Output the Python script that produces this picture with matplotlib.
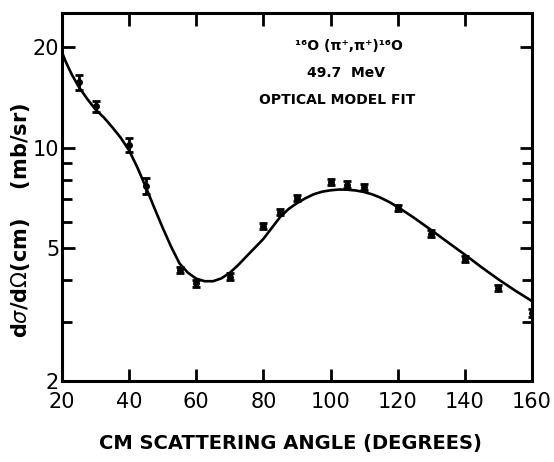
import matplotlib
matplotlib.use('Agg')
import matplotlib.pyplot as plt
from matplotlib import font_manager
from matplotlib.ticker import FixedLocator, NullFormatter

# Measured cross sections (CM angle in degrees, mb/sr)
angles = [25, 30, 40, 45, 55, 60, 70, 80, 85, 90, 100, 105, 110, 120, 130, 140, 150, 160]
xsec = [15.7, 13.3, 10.2, 7.67, 4.30, 3.92, 4.10, 5.82, 6.41, 7.08, 7.90, 7.75, 7.60,
        6.60, 5.53, 4.64, 3.79, 3.20]
xsec_err = [0.85, 0.5, 0.5, 0.42, 0.1, 0.09, 0.1, 0.13, 0.14, 0.15, 0.17, 0.17, 0.16,
            0.14, 0.12, 0.1, 0.08, 0.08]

# Optical model fit
fit_angles = [20, 21, 22, 23, 25, 27.5, 30, 32.5, 35, 37.5, 40, 42.5, 45, 47.5, 50, 52.5,
              55, 57.5, 60, 62.5, 65, 67.5, 70, 72.5, 75, 77.5, 80, 82.5, 85, 87.5, 90,
              92.5, 95, 97.5, 100, 102.5, 105, 107.5, 110, 112.5, 115, 117.5, 120, 125,
              130, 135, 140, 145, 150, 155, 160]
fit_xsec = [19.3, 18.2, 17.3, 16.5, 15.2, 14.0, 13.0, 12.3, 11.5, 10.7, 9.8, 8.7, 7.6,
            6.6, 5.75, 5.05, 4.50, 4.22, 4.05, 3.98, 3.98, 4.06, 4.22, 4.45, 4.73, 5.02,
            5.33, 5.75, 6.2, 6.55, 6.82, 7.05, 7.25, 7.38, 7.45, 7.49, 7.48, 7.44, 7.36,
            7.24, 7.07, 6.87, 6.64, 6.15, 5.66, 5.2, 4.78, 4.38, 4.03, 3.73, 3.47]

xticks = [20, 40, 60, 80, 100, 120, 140, 160]
yticks = [2, 5, 10, 20]
yminor = [3, 4, 6, 7, 8, 9]

plt.rcParams['font.family'] = ['DejaVu Sans']

# narrow lettering for the annotation block, if the font is there
names = {f.name for f in font_manager.fontManager.ttflist}
if 'Liberation Sans Narrow' in names:
    note_font, note_size = 'Liberation Sans Narrow', 12
else:
    note_font, note_size = 'DejaVu Sans', 10

fig = plt.figure(figsize=(5.54, 4.62), dpi=100)
ax = fig.add_axes([62 / 554, 81 / 462, 470 / 554, 368 / 462])

ax.plot(fit_angles, fit_xsec, color='black', lw=1.9)
ax.errorbar(angles, xsec, yerr=xsec_err, fmt='o', color='black', ms=4,
            elinewidth=2, capsize=2.6, capthick=2)

ax.set_yscale('log')
ax.set_xlim(20, 160)
ax.set_ylim(2, 25.3)

ax.xaxis.set_major_locator(FixedLocator(xticks))
ax.set_xticklabels([str(t) for t in xticks])
ax.yaxis.set_major_locator(FixedLocator(yticks))
ax.set_yticklabels([str(t) for t in yticks])
ax.yaxis.set_minor_locator(FixedLocator(yminor))
ax.yaxis.set_minor_formatter(NullFormatter())

ax.tick_params(which='both', direction='in', top=True, right=True, width=2,
               labelsize=15)
ax.tick_params(axis='y', pad=2)
ax.tick_params(axis='x', pad=8)
ax.tick_params(which='major', length=9)
ax.tick_params(which='minor', length=7)
for s in ax.spines.values():
    s.set_linewidth(2.2)

fig.text(290 / 554, 1 - 443 / 462, 'CM SCATTERING ANGLE (DEGREES)', ha='center',
         va='center', fontsize=14, fontweight='bold')
fig.text(21 / 554, 1 - 220 / 462, r'd$\sigma$/d$\Omega$(cm)    (mb/sr)', ha='center',
         va='center', rotation=90, fontsize=15, fontweight='bold')

# annotation block, x in degrees, y in axes fraction
note = dict(transform=ax.get_xaxis_transform(), ha='center', va='center',
            fontsize=note_size, fontweight='bold', family=note_font)
ax.text(105.5, 1 - 33 / 368, '¹⁶O (π⁺,π⁺)¹⁶O', **note)
ax.text(104.5, 1 - 60 / 368, '49.7  MeV', **note)
ax.text(102, 1 - 87 / 368, 'OPTICAL MODEL FIT', **note)

fig.savefig('out.png', dpi=100)
